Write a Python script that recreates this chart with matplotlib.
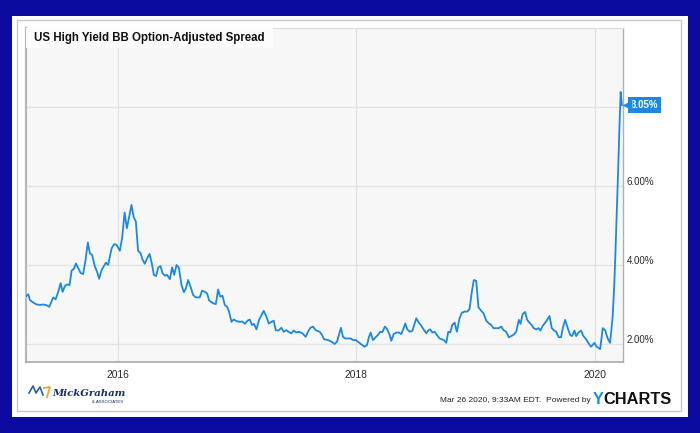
import matplotlib
matplotlib.use("Agg")
import matplotlib.pyplot as plt
from matplotlib.patches import Rectangle
from matplotlib.lines import Line2D
from matplotlib.transforms import ScaledTranslation, blended_transform_factory

plt.rcParams['font.family'] = ['Liberation Sans', 'DejaVu Sans']

# ---------------- data (decimal years, spread in %) ----------------
dates = [
    2015.238, 2015.252, 2015.266, 2015.294, 2015.322, 2015.350, 2015.377, 2015.406, 2015.428, 2015.461,
    2015.481, 2015.503, 2015.523, 2015.540, 2015.559, 2015.578, 2015.598, 2015.615, 2015.634, 2015.651,
    2015.670, 2015.690, 2015.712, 2015.732, 2015.751, 2015.768, 2015.787, 2015.810, 2015.829, 2015.846,
    2015.866, 2015.885, 2015.902, 2015.921, 2015.950, 2015.972, 2015.992, 2016.019, 2016.038, 2016.059,
    2016.078, 2016.097, 2016.117, 2016.134, 2016.153, 2016.172, 2016.192, 2016.209, 2016.228, 2016.248,
    2016.268, 2016.287, 2016.304, 2016.323, 2016.340, 2016.360, 2016.377, 2016.396, 2016.415, 2016.438,
    2016.457, 2016.474, 2016.494, 2016.513, 2016.536, 2016.555, 2016.572, 2016.591, 2016.611, 2016.633,
    2016.655, 2016.689, 2016.708, 2016.731, 2016.750, 2016.767, 2016.800, 2016.823, 2016.842, 2016.859,
    2016.879, 2016.898, 2016.917, 2016.934, 2016.954, 2016.973, 2016.996, 2017.023, 2017.046, 2017.068,
    2017.088, 2017.107, 2017.126, 2017.143, 2017.163, 2017.185, 2017.205, 2017.224, 2017.247, 2017.266,
    2017.289, 2017.308, 2017.325, 2017.347, 2017.372, 2017.392, 2017.414, 2017.436, 2017.456, 2017.475,
    2017.498, 2017.520, 2017.548, 2017.576, 2017.595, 2017.615, 2017.637, 2017.659, 2017.693, 2017.712,
    2017.729, 2017.762, 2017.791, 2017.818, 2017.838, 2017.854, 2017.871, 2017.888, 2017.908, 2017.930,
    2017.952, 2017.972, 2017.994, 2018.013, 2018.042, 2018.069, 2018.089, 2018.105, 2018.120, 2018.139,
    2018.161, 2018.181, 2018.201, 2018.218, 2018.239, 2018.259, 2018.279, 2018.293, 2018.312, 2018.335,
    2018.356, 2018.377, 2018.396, 2018.410, 2018.427, 2018.446, 2018.469, 2018.488, 2018.502, 2018.524,
    2018.544, 2018.563, 2018.586, 2018.605, 2018.619, 2018.636, 2018.655, 2018.674, 2018.697, 2018.716,
    2018.733, 2018.753, 2018.770, 2018.787, 2018.803, 2018.823, 2018.842, 2018.864, 2018.884, 2018.906,
    2018.929, 2018.948, 2018.967, 2018.984, 2019.004, 2019.023, 2019.046, 2019.065, 2019.088, 2019.110,
    2019.130, 2019.149, 2019.172, 2019.193, 2019.213, 2019.233, 2019.255, 2019.277, 2019.297, 2019.316,
    2019.339, 2019.361, 2019.375, 2019.394, 2019.414, 2019.431, 2019.450, 2019.469, 2019.486, 2019.506,
    2019.525, 2019.542, 2019.561, 2019.582, 2019.598, 2019.618, 2019.637, 2019.654, 2019.674, 2019.695,
    2019.715, 2019.729, 2019.749, 2019.771, 2019.791, 2019.807, 2019.827, 2019.841, 2019.860, 2019.883,
    2019.902, 2019.925, 2019.944, 2019.966, 2019.994, 2020.013, 2020.042, 2020.064, 2020.084, 2020.105,
    2020.125, 2020.147, 2020.161, 2020.170, 2020.181, 2020.192, 2020.203, 2020.214, 2020.224,
]
spread = [
    3.22, 3.26, 3.11, 3.05, 3.00, 2.99, 3.00, 2.98, 2.94, 3.18,
    3.13, 3.32, 3.54, 3.32, 3.47, 3.51, 3.49, 3.86, 3.90, 4.04,
    3.92, 3.80, 3.77, 4.13, 4.57, 4.30, 4.25, 3.96, 3.82, 3.65,
    3.87, 3.97, 4.06, 4.00, 4.42, 4.53, 4.51, 4.36, 4.68, 5.33,
    4.93, 5.22, 5.52, 5.22, 5.10, 4.36, 4.30, 4.14, 4.03, 4.17,
    4.28, 4.04, 3.75, 3.72, 3.94, 3.97, 3.79, 3.73, 3.75, 3.64,
    3.94, 3.75, 4.00, 3.94, 3.49, 3.31, 3.41, 3.62, 3.45, 3.24,
    3.18, 3.18, 3.35, 3.32, 3.28, 3.10, 3.03, 3.01, 3.38, 3.20,
    3.22, 2.99, 2.94, 2.82, 2.56, 2.62, 2.58, 2.56, 2.57, 2.51,
    2.59, 2.62, 2.48, 2.51, 2.37, 2.61, 2.73, 2.84, 2.69, 2.52,
    2.56, 2.59, 2.35, 2.34, 2.41, 2.31, 2.35, 2.30, 2.27, 2.34,
    2.29, 2.31, 2.27, 2.18, 2.31, 2.41, 2.44, 2.35, 2.31, 2.23,
    2.12, 2.10, 2.06, 2.00, 2.06, 2.23, 2.41, 2.18, 2.14, 2.14,
    2.14, 2.10, 2.10, 2.06, 1.99, 1.93, 1.97, 2.17, 2.29, 2.10,
    2.17, 2.23, 2.31, 2.30, 2.44, 2.37, 2.23, 2.08, 2.25, 2.29,
    2.29, 2.25, 2.40, 2.52, 2.37, 2.31, 2.33, 2.51, 2.65, 2.54,
    2.46, 2.37, 2.27, 2.35, 2.37, 2.29, 2.31, 2.23, 2.14, 2.12,
    2.10, 2.03, 2.31, 2.29, 2.48, 2.54, 2.31, 2.65, 2.79, 2.82,
    2.82, 2.88, 3.32, 3.62, 3.60, 2.93, 2.84, 2.78, 2.59, 2.52,
    2.48, 2.40, 2.40, 2.40, 2.44, 2.35, 2.31, 2.17, 2.20, 2.23,
    2.31, 2.61, 2.51, 2.76, 2.81, 2.61, 2.54, 2.48, 2.40, 2.37,
    2.40, 2.34, 2.46, 2.54, 2.61, 2.71, 2.40, 2.35, 2.31, 2.17,
    2.17, 2.40, 2.61, 2.40, 2.23, 2.20, 2.34, 2.20, 2.29, 2.34,
    2.20, 2.12, 2.02, 1.93, 2.03, 1.93, 1.87, 2.40, 2.35, 2.14,
    2.03, 2.69, 3.54, 4.30, 5.31, 6.32, 7.42, 8.38, 8.05,
]

title = "US High Yield BB Option-Adjusted Spread"
y_ticks = [2, 4, 6, 8]
y_tick_labels = ["2.00%", "4.00%", "6.00%", ""]
x_ticks = [2016, 2018, 2020]
x_tick_labels = ["2016", "2018", "2020"]
timestamp = "Mar 26 2020, 9:33AM EDT.  Powered by"

# ---------------- styling ----------------
W, H = 700, 433
frame_blue = '#0b0ba0'
line_blue = '#1a88e6'

fig = plt.figure(figsize=(W / 100, H / 100), dpi=100, facecolor=frame_blue)

def fx(px):
    return px / W

def fy(py):
    return 1 - py / H

# white panel and inner border
fig.patches.append(Rectangle((fx(12), fy(417)), 676 / W, 401 / H, transform=fig.transFigure,
                             fc='white', ec='none', zorder=-3))
fig.patches.append(Rectangle((fx(17), fy(411)), 664 / W, 391 / H, transform=fig.transFigure,
                             fc='none', ec='#c8c8c8', lw=1.0, zorder=-2))

ax = fig.add_axes([fx(26), fy(362), 597 / W, 334 / H])
ax.set_zorder(2)
ax.set_facecolor('#f7f7f7')
ax.plot(dates, spread, color=line_blue, lw=1.3, solid_joinstyle='round', zorder=3)
ax.set_xlim(2015.233, 2020.2335)
ax.set_ylim(1.544, 10.0)

ax.set_yticks(y_ticks)
ax.set_yticklabels(y_tick_labels)
ax.set_xticks(x_ticks)
ax.set_xticklabels(x_tick_labels)
ax.yaxis.tick_right()
ax.tick_params(axis='y', length=0, pad=2.5, labelsize=7.0, labelcolor='#2a2a2a')
ax.tick_params(axis='x', length=0, pad=6, labelsize=7.4, labelcolor='#2a2a2a')
for lbl in ax.get_yticklabels():
    lbl.set_transform(lbl.get_transform() + ScaledTranslation(0, 0.05, fig.dpi_scale_trans))
ax.grid(True, color='#e3e3e3', lw=1.0, zorder=0)
ax.set_axisbelow(True)

ax.spines['left'].set_color('#b8b8b8')
ax.spines['left'].set_linewidth(1.6)
ax.spines['bottom'].set_color('#a8a8a8')
ax.spines['bottom'].set_linewidth(1.2)
ax.spines['right'].set_color('#b0b0b0')
ax.spines['right'].set_linewidth(1.0)
ax.spines['top'].set_color('#dcdcdc')
ax.spines['top'].set_linewidth(0.8)

# title box
ax.add_patch(Rectangle((0, (362 - 48) / 334), (273 - 26) / 597, 20 / 334, transform=ax.transAxes,
                       fc='#fcfcfc', ec='none', zorder=4))
ax.text((34 - 26) / 597, (362 - 37.5) / 334, title, transform=ax.transAxes, ha='left', va='center',
        fontsize=8.3, fontweight='bold', color='#111111', zorder=5)

# last value marker
trans = blended_transform_factory(ax.transAxes, ax.transData)
last = spread[-1]
ax.annotate(f"{last:.2f}%", xy=(1, last), xycoords=trans, xytext=(5.5, 0), textcoords='offset points',
            ha='left', va='center', fontsize=7.0, fontweight='bold', color='white',
            bbox=dict(boxstyle='square,pad=0.32', fc=line_blue, ec='none'), annotation_clip=False, zorder=6)
ax.plot([1], [last], marker='<', ms=6.5, color=line_blue, mec='none',
        transform=trans + ScaledTranslation(3.8 / 100, 0, fig.dpi_scale_trans),
        clip_on=False, zorder=6)

# footer
fig.text(fx(440), fy(401), timestamp, ha='left', va='center', fontsize=6.0, color='#222222')
fig.text(fx(593), fy(400), "Y", ha='left', va='center', fontsize=11.8, fontweight='bold', color='#1b8fe6')
fig.text(fx(672), fy(400), "CHARTS", ha='right', va='center', fontsize=11.8, fontweight='bold', color='#111111')

# logo
fig.text(fx(52), fy(393), "MickGraham", ha='left', va='center', fontsize=7.3, fontstyle='italic',
         fontweight='bold', family='DejaVu Serif', color='#1a2d6d')
fig.text(fx(123), fy(402), "& ASSOCIATES", ha='right', va='center', fontsize=3.2, color='#1a2d6d')
fig.lines.append(Line2D([fx(29), fx(33), fx(36), fx(40), fx(43)], [fy(393), fy(386), fy(393), fy(387), fy(395)],
                        transform=fig.transFigure, color='#2a5db0', lw=1.2))
fig.lines.append(Line2D([fx(44), fx(50), fx(47)], [fy(388), fy(387), fy(397)],
                        transform=fig.transFigure, color='#f0a020', lw=1.2))

fig.savefig("out.png", dpi=100, facecolor=frame_blue)
